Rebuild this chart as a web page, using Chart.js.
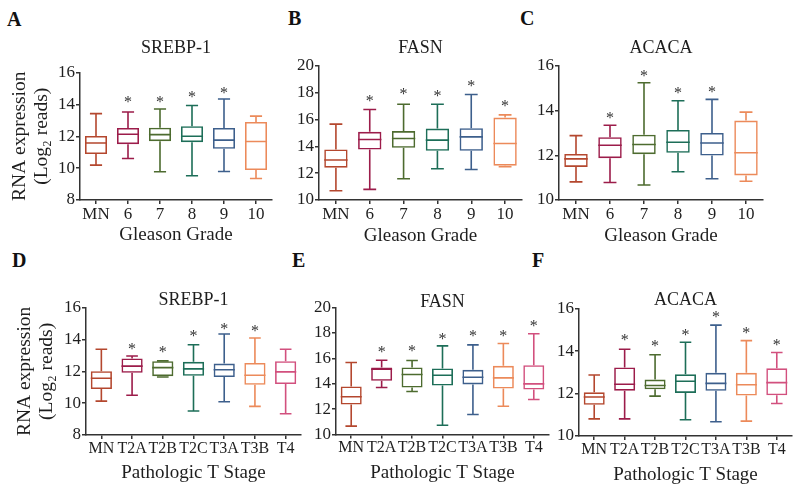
<!DOCTYPE html>
<html>
<head>
<meta charset="utf-8">
<script src="https://cdn.jsdelivr.net/npm/chart.js@4.4.0/dist/chart.umd.min.js"></script>
<style>
  body { margin: 0; background: #fff; width: 800px; height: 493px; position: relative; overflow: hidden; }
  canvas { position: absolute; }
  .letter { position: absolute; font: bold 20px "Liberation Serif", serif; line-height: 20px; color: #111; }
</style>
</head>
<body>
<div class="letter" style="left:7px;top:9px">A</div>
<div class="letter" style="left:288px;top:8px">B</div>
<div class="letter" style="left:520px;top:8px">C</div>
<div class="letter" style="left:12px;top:250px">D</div>
<div class="letter" style="left:292px;top:250px">E</div>
<div class="letter" style="left:532px;top:250px">F</div>

<canvas id="cA"></canvas>
<canvas id="cB"></canvas>
<canvas id="cC"></canvas>
<canvas id="cD"></canvas>
<canvas id="cE"></canvas>
<canvas id="cF"></canvas>

<script>
// categories
const gradeLabels = ["MN", "6", "7", "8", "9", "10"];
const stageLabels = ["MN", "T2A", "T2B", "T2C", "T3A", "T3B", "T4"];

// A - SREBP-1 by Gleason grade
const aLow  = [10.19, 10.60, 9.77, 9.52, 9.79, 9.35];
const aQ1   = [10.88, 11.50, 11.69, 11.63, 11.21, 9.88];
const aMed  = [11.58, 12.13, 12.10, 12.00, 11.76, 11.67];
const aQ3   = [12.02, 12.52, 12.54, 12.63, 12.52, 12.90];
const aHigh = [13.42, 13.52, 13.71, 13.93, 14.34, 13.26];
const aStar = [null, 14.25, 14.25, 14.55, 14.80, null];

// B - FASN by Gleason grade
const bLow  = [10.69, 10.79, 11.59, 12.33, 12.28, 12.48];
const bQ1   = [12.41, 13.77, 13.90, 13.67, 13.67, 12.56];
const bMed  = [12.98, 14.52, 14.59, 14.47, 14.71, 14.22];
const bQ3   = [13.77, 15.09, 15.14, 15.33, 15.36, 16.15];
const bHigh = [15.66, 16.75, 17.15, 17.15, 17.87, 16.35];
const bStar = [null, 17.49, 17.99, 17.87, 18.56, 17.07];

// C - ACACA by Gleason grade
const cLow  = [10.81, 10.78, 10.67, 11.26, 10.95, 10.84];
const cQ1   = [11.48, 11.87, 12.05, 12.11, 11.99, 11.10];
const cMed  = [11.84, 12.45, 12.48, 12.58, 12.55, 12.11];
const cQ3   = [12.06, 12.81, 12.92, 13.13, 13.00, 13.55];
const cHigh = [12.88, 13.34, 15.24, 14.44, 14.50, 13.93];
const cStar = [null, 13.71, 15.61, 14.83, 14.90, null];

// D - SREBP-1 by pathologic T stage
const dLow  = [10.13, 10.50, 11.65, 9.51, 10.09, 9.80, 9.34];
const dQ1   = [10.89, 11.91, 11.70, 11.72, 11.64, 11.16, 11.20];
const dMed  = [11.57, 12.33, 12.24, 12.16, 12.10, 11.76, 11.97];
const dQ3   = [12.01, 12.81, 12.64, 12.60, 12.49, 12.53, 12.64];
const dHigh = [13.39, 12.97, 12.66, 13.68, 14.35, 14.10, 13.39];
const dStar = [null, 13.49, 13.29, 14.31, 14.76, 14.62, null];

// E - FASN by pathologic T stage
const eLow  = [10.66, 13.70, 13.39, 10.73, 11.57, 12.23, 12.76];
const eQ1   = [12.36, 14.23, 13.70, 13.86, 13.94, 13.62, 13.54];
const eMed  = [12.97, 15.14, 14.72, 14.67, 14.51, 14.46, 13.99];
const eQ3   = [13.78, 15.28, 15.28, 15.20, 15.09, 15.41, 15.46];
const eHigh = [15.67, 15.85, 15.83, 16.98, 17.06, 17.17, 17.93];
const eStar = [null, 16.56, 16.69, 17.61, 17.87, 17.87, 18.61];

// F - ACACA by pathologic T stage
const fLow  = [10.81, 10.81, 11.88, 10.77, 10.67, 10.70, 11.53];
const fQ1   = [11.47, 12.14, 12.20, 12.03, 12.13, 11.91, 11.92];
const fMed  = [11.84, 12.44, 12.38, 12.58, 12.48, 12.42, 12.52];
const fQ3   = [12.06, 13.23, 12.66, 12.91, 12.98, 12.98, 13.19];
const fHigh = [12.88, 14.09, 13.83, 14.42, 15.23, 14.50, 13.94];
const fStar = [null, 14.59, 14.28, 14.83, 15.69, 14.91, 14.33];

const boxColors = ["#b4472e", "#9c1c4a", "#4d6b2f", "#1d6e58", "#3d5f8c", "#ec8a5a", "#d2507e"];
const SERIF = '"Liberation Serif", "Times New Roman", serif';
const AXIS = "#333";
const TEXT = "#1e1e1e";

// whiskers, caps, medians and stars drawn through the chart scales
const boxPlugin = {
  id: "boxes",
  afterDatasetsDraw(chart) {
    const ctx = chart.ctx;
    const ys = chart.scales.y;
    const ds = chart.data.datasets[0];
    const meta = chart.getDatasetMeta(0);
    ctx.save();
    meta.data.forEach((bar, i) => {
      const x = bar.x;
      const half = bar.width / 2;
      const cap = half * 0.55;
      const yLow = ys.getPixelForValue(ds.lows[i]);
      const yQ1 = ys.getPixelForValue(ds.data[i][0]);
      const yQ3 = ys.getPixelForValue(ds.data[i][1]);
      const yHigh = ys.getPixelForValue(ds.highs[i]);
      const yMed = ys.getPixelForValue(ds.meds[i]);
      ctx.strokeStyle = ds.borderColor[i];
      ctx.lineWidth = 1.6;
      ctx.beginPath();
      ctx.moveTo(x, yQ3); ctx.lineTo(x, yHigh);
      ctx.moveTo(x - cap, yHigh); ctx.lineTo(x + cap, yHigh);
      ctx.moveTo(x, yQ1); ctx.lineTo(x, yLow);
      ctx.moveTo(x - cap, yLow); ctx.lineTo(x + cap, yLow);
      ctx.moveTo(x - half, yMed); ctx.lineTo(x + half, yMed);
      ctx.stroke();
      if (ds.stars[i] != null) {
        ctx.fillStyle = "#333";
        ctx.font = "16px " + SERIF;
        ctx.textAlign = "center";
        ctx.textBaseline = "middle";
        ctx.fillText("*", x, ys.getPixelForValue(ds.stars[i]) + 2);
      }
    });
    ctx.restore();
  }
};

function buildPanel(p) {
  const canvas = document.getElementById(p.id);
  canvas.width = p.cr - p.cl;
  canvas.height = p.cb - p.ct;
  canvas.style.left = p.cl + "px";
  canvas.style.top = p.ct + "px";
  const yw = p.L - p.cl;
  const xh = p.cb - p.B;
  const tTop = p.titleY - p.ct - 4.25;
  const tBottom = p.T - p.ct - tTop - 8.5;
  const xtBottom = p.cb - p.xTitleY - 11.4;

  new Chart(canvas, {
    type: "bar",
    data: {
      labels: p.labels,
      datasets: [{
        data: p.q1.map((v, i) => [v, p.q3[i]]),
        lows: p.low, highs: p.high, meds: p.med, stars: p.star,
        backgroundColor: "rgba(255,255,255,0)",
        borderColor: boxColors.slice(0, p.labels.length),
        borderWidth: 1.6,
        borderSkipped: false,
        barPercentage: 1,
        categoryPercentage: 0.69
      }]
    },
    options: {
      responsive: false,
      animation: false,
      devicePixelRatio: 1,
      layout: { padding: { left: 0, top: 0, bottom: 0, right: p.cr - p.R } },
      plugins: {
        legend: { display: false },
        tooltip: { enabled: false },
        title: {
          display: true, text: p.title, color: TEXT, fullSize: false,
          font: { family: SERIF, size: 18, weight: "normal", lineHeight: 0.5 },
          padding: { top: tTop, bottom: tBottom }
        }
      },
      scales: {
        x: {
          offset: true,
          grid: { display: true, offset: false, drawOnChartArea: false, drawTicks: true, tickLength: 4, color: AXIS, lineWidth: 1.5 },
          border: { display: true, color: AXIS, width: 1.5 },
          ticks: { color: TEXT, font: { family: SERIF, size: p.tickSize }, padding: 0, autoSkip: false, maxRotation: 0 },
          title: { display: true, text: p.xTitle, color: TEXT, font: { family: SERIF, size: 19 }, padding: { top: 0, bottom: xtBottom } },
          afterFit: s => { s.height = xh; }
        },
        y: {
          min: p.yMin, max: p.yMax,
          grid: { display: true, drawOnChartArea: false, drawTicks: true, tickLength: 4, color: AXIS, lineWidth: 1.5 },
          border: { display: true, color: AXIS, width: 1.5 },
          ticks: { stepSize: 2, color: TEXT, font: { family: SERIF, size: 17 }, padding: 1 },
          title: p.yTitle ? {
            display: true, text: ["RNA expression", "(Log\u2082 reads)"], color: TEXT,
            font: { family: SERIF, size: 19.5, lineHeight: 1.13 }, padding: { top: p.yTitleX - 11 }
          } : { display: false },
          afterFit: s => { s.width = yw; }
        }
      }
    },
    plugins: [boxPlugin]
  });
}

buildPanel({ id: "cA", labels: gradeLabels, low: aLow, q1: aQ1, med: aMed, q3: aQ3, high: aHigh, star: aStar,
  title: "SREBP-1", xTitle: "Gleason Grade", yTitle: true, yTitleX: 20, yMin: 8, yMax: 16, tickSize: 17,
  L: 80, T: 72, R: 272, B: 200, cl: 0, ct: 0, cr: 284, cb: 246, titleY: 48, xTitleY: 235 });
buildPanel({ id: "cB", labels: gradeLabels, low: bLow, q1: bQ1, med: bMed, q3: bQ3, high: bHigh, star: bStar,
  title: "FASN", xTitle: "Gleason Grade", yTitle: false, yMin: 10, yMax: 20, tickSize: 17,
  L: 319, T: 65.5, R: 522, B: 200, cl: 285, ct: 0, cr: 534, cb: 246, titleY: 48, xTitleY: 236 });
buildPanel({ id: "cC", labels: gradeLabels, low: cLow, q1: cQ1, med: cMed, q3: cQ3, high: cHigh, star: cStar,
  title: "ACACA", xTitle: "Gleason Grade", yTitle: false, yMin: 10, yMax: 16, tickSize: 17,
  L: 559, T: 65.3, R: 763, B: 200, cl: 528, ct: 0, cr: 798, cb: 246, titleY: 48, xTitleY: 236 });
buildPanel({ id: "cD", labels: stageLabels, low: dLow, q1: dQ1, med: dMed, q3: dQ3, high: dHigh, star: dStar,
  title: "SREBP-1", xTitle: "Pathologic T Stage", yTitle: true, yTitleX: 25, yMin: 8, yMax: 16, tickSize: 16,
  L: 86, T: 307.3, R: 301, B: 435, cl: 0, ct: 250, cr: 312, cb: 493, titleY: 300, xTitleY: 473 });
buildPanel({ id: "cE", labels: stageLabels, low: eLow, q1: eQ1, med: eMed, q3: eQ3, high: eHigh, star: eStar,
  title: "FASN", xTitle: "Pathologic T Stage", yTitle: false, yMin: 10, yMax: 20, tickSize: 16,
  L: 336, T: 307, R: 549, B: 434.5, cl: 305, ct: 250, cr: 560, cb: 493, titleY: 302, xTitleY: 473 });
buildPanel({ id: "cF", labels: stageLabels, low: fLow, q1: fQ1, med: fMed, q3: fQ3, high: fHigh, star: fStar,
  title: "ACACA", xTitle: "Pathologic T Stage", yTitle: false, yMin: 10, yMax: 16, tickSize: 16,
  L: 579, T: 308.3, R: 792, B: 436, cl: 548, ct: 250, cr: 800, cb: 493, titleY: 300, xTitleY: 475 });
</script>
</body>
</html>
